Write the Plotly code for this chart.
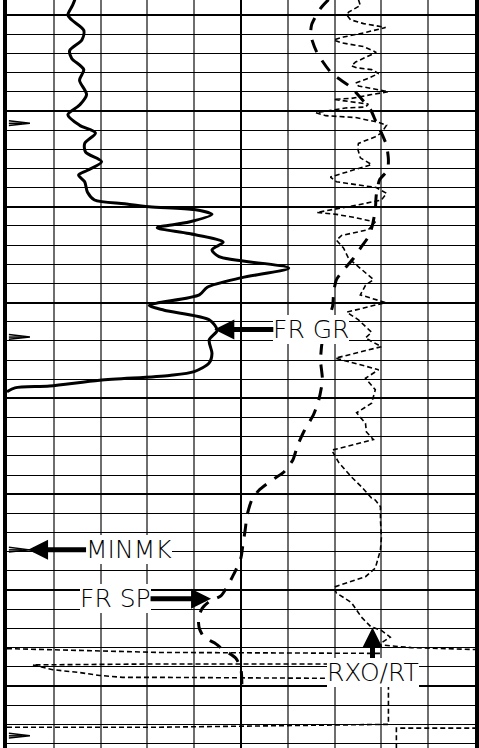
import plotly.graph_objects as go

# ---------------- data (depth in ft, curve readings in track divisions 0-10) ----------------
gr_depth = [3998.4, 3999.0, 4000.0, 4000.5, 4001.6, 4002.6, 4003.7, 4004.5, 4005.7, 4006.8,
            4008.3, 4009.4, 4010.4, 4011.5, 4012.3, 4013.4, 4014.3, 4015.3, 4016.2, 4016.7,
            4017.4, 4018.5, 4019.3, 4019.7, 4020.0, 4020.3, 4020.8, 4021.6, 4022.2, 4022.8,
            4023.7, 4024.5, 4025.2, 4026.4, 4027.4, 4028.4, 4029.2, 4030.3, 4030.8, 4031.8,
            4032.9, 4033.9, 4035.3, 4036.3, 4037.2, 4037.6, 4038.1, 4038.7, 4038.9, 4039.3]
gr_value = [1.45, 1.40, 1.30, 1.38, 1.64, 1.60, 1.34, 1.38, 1.64, 1.55,
            1.70, 1.55, 1.30, 1.55, 1.89, 1.66, 1.68, 2.02, 1.72, 1.53,
            1.66, 1.72, 1.87, 2.51, 3.04, 4.00, 4.38, 3.89, 3.21, 3.89,
            4.62, 4.38, 4.53, 6.02, 5.02, 4.28, 4.11, 3.04, 3.36, 4.32,
            4.49, 4.32, 4.38, 4.32, 4.00, 3.47, 1.98, 0.91, 0.17, 0.00]

sp_depth = [3998.4, 3999.3, 4001.0, 4002.1, 4003.9, 4006.1, 4007.5, 4008.6, 4009.9, 4011.2,
            4012.5, 4013.6, 4015.1, 4016.2, 4017.2, 4018.8, 4020.3, 4021.9, 4023.0, 4024.2,
            4025.4, 4026.6, 4027.6, 4028.9, 4030.3, 4031.8, 4033.9, 4036.0, 4038.1, 4040.2,
            4041.7, 4043.3, 4044.9, 4046.4, 4047.7, 4048.6, 4049.6, 4050.6, 4052.2, 4053.7,
            4055.3, 4056.6, 4058.1, 4059.5, 4060.6, 4061.2, 4061.9, 4062.9, 4064.0, 4064.9,
            4065.5, 4066.2, 4067.1, 4068.3, 4070.1]
sp_value = [6.87, 6.70, 6.51, 6.49, 6.62, 6.94, 7.34, 7.55, 7.77, 7.89,
            8.02, 8.11, 8.15, 8.13, 7.96, 7.89, 7.87, 7.81, 7.74, 7.57,
            7.40, 7.19, 7.04, 6.98, 6.96, 6.87, 6.74, 6.70, 6.74, 6.66,
            6.55, 6.36, 6.21, 6.11, 5.91, 5.64, 5.38, 5.23, 5.13, 5.09,
            5.04, 5.00, 4.87, 4.72, 4.57, 4.32, 4.17, 4.09, 4.11, 4.21,
            4.43, 4.62, 4.89, 5.00, 5.02]

rxo_depth = [3998.4, 3999.0, 3999.7, 4000.0, 4000.5, 4000.9, 4001.3, 4001.8, 4002.3, 4002.6,
             4002.9, 4003.3, 4003.9, 4004.4, 4004.9, 4005.3, 4005.5, 4005.7, 4006.1, 4006.6,
             4007.1, 4007.4, 4007.7, 4008.0, 4008.3, 4008.7, 4008.8, 4009.1, 4009.3, 4009.6,
             4009.7, 4010.2, 4010.5, 4010.7, 4011.2, 4011.5, 4012.3, 4012.7, 4013.4, 4013.9,
             4014.9, 4015.6, 4016.2, 4016.9, 4017.4, 4017.7, 4018.0, 4018.6, 4019.3, 4019.8,
             4020.6, 4020.8, 4021.1, 4021.6, 4022.4, 4023.0, 4023.5, 4024.3, 4025.4, 4026.1,
             4027.6, 4028.2, 4029.2, 4030.0, 4031.0, 4031.8, 4033.1, 4033.7, 4034.6, 4035.8,
             4037.0, 4037.9, 4039.1, 4040.5, 4041.5, 4042.6, 4043.5, 4044.3, 4045.4, 4046.7,
             4048.2, 4049.2, 4050.4, 4050.6, 4051.3, 4052.7, 4054.5, 4055.8, 4057.7, 4058.6,
             4059.5, 4059.7, 4060.3, 4061.3, 4062.8, 4063.8, 4064.2, 4064.9, 4065.7, 4066.0,
             4066.2]
rxo_value = [7.51, 7.55, 7.30, 7.26, 7.34, 7.62, 8.09, 7.68, 7.19, 6.98,
             7.15, 7.62, 7.89, 7.68, 7.45, 7.36, 7.47, 7.79, 7.94, 7.72,
             7.45, 7.51, 7.87, 8.15, 7.79, 7.36, 6.98, 7.45, 7.72, 7.66,
             7.23, 6.60, 6.81, 7.45, 7.94, 8.11, 8.00, 7.87, 7.51, 7.49,
             7.55, 7.79, 7.40, 6.91, 7.04, 7.51, 7.89, 8.11, 8.00, 7.51,
             6.62, 7.04, 7.40, 7.87, 7.72, 7.15, 7.04, 7.19, 7.30, 7.47,
             7.83, 7.66, 7.55, 8.09, 7.26, 7.51, 7.79, 7.66, 8.00, 7.02,
             7.94, 7.66, 7.87, 7.79, 7.47, 7.66, 7.68, 7.83, 6.94, 7.09,
             7.36, 7.57, 7.79, 7.87, 7.98, 7.98, 8.00, 7.98, 7.87, 7.66,
             7.09, 6.98, 7.04, 7.36, 7.57, 7.77, 8.00, 8.19, 7.94, 8.64,
             10.00]

# off-scale (wrapped) resistivity backups near the bottom
wrap1_depth = [4066.1, 4066.2, 4066.5, 4066.6]
wrap1_value = [0.00, 0.98, 3.26, 8.00]
wrap2_depth = [4067.7, 4067.7, 4067.8, 4068.3, 4068.6, 4068.9, 4069.1, 4069.1, 4069.2]
wrap2_value = [6.87, 3.26, 0.55, 0.98, 1.55, 1.98, 2.47, 3.26, 6.87]
wrap3_depth = [4074.3, 4074.3, 4074.1, 4074.0, 4070.2, 4068.5]
wrap3_value = [0.00, 3.26, 6.51, 8.15, 8.15, 8.15]
wrap4_depth = [4076.5, 4074.4, 4074.4]
wrap4_value = [8.32, 8.32, 10.00]

minmk_depth = [4011.3, 4033.6, 4055.8, 4075.2]

label_text = ["FR GR", "MINMK", "FR SP", "RXO/RT"]
label_value = [4.43, 0.45, 4.36, 7.81]
label_depth = [4032.8, 4055.8, 4060.9, 4063.9]

# ---------------- figure ----------------
fig = go.Figure()

fig.add_trace(go.Scatter(x=gr_value, y=gr_depth, mode="lines", name="GR",
                         line=dict(color="black", width=3, shape="spline", smoothing=0.8)))
fig.add_trace(go.Scatter(x=sp_value, y=sp_depth, mode="lines", name="SP",
                         line=dict(color="black", width=3, dash="13px,10px",
                                   shape="spline", smoothing=0.6)))
fig.add_trace(go.Scatter(x=rxo_value, y=rxo_depth, mode="lines", name="RXO/RT",
                         line=dict(color="black", width=1.6, dash="5px,3px")))
for wv, wd in [(wrap1_value, wrap1_depth), (wrap2_value, wrap2_depth),
               (wrap3_value, wrap3_depth), (wrap4_value, wrap4_depth)]:
    fig.add_trace(go.Scatter(x=wv, y=wd, mode="lines", showlegend=False,
                             line=dict(color="black", width=1.6, dash="5px,3px")))

# MINMK flags at the left edge of the track
fx, fy = [], []
for d in minmk_depth:
    fx += [0.04, 0.49, 0.04, None, 0.04, 0.33, None]
    fy += [d - 0.27, d, d + 0.22, None, d, d, None]
fig.add_trace(go.Scatter(x=fx, y=fy, mode="lines", showlegend=False,
                         line=dict(color="black", width=1.5)))

offsets = [(97, 0), (101, 0), (-96, 0), (0, 45)]
for txt, xv, dv, (ax, ay) in zip(label_text, label_value, label_depth, offsets):
    fig.add_annotation(x=xv, y=dv, text=txt, showarrow=True, ax=ax, ay=ay,
                       arrowhead=2, arrowsize=0.8, arrowwidth=5, arrowcolor="black",
                       bgcolor="white", borderpad=0, borderwidth=0,
                       font=dict(family="'DejaVu Sans', sans-serif", size=25,
                                 color="black", weight=200))

fig.update_xaxes(range=[0, 10], showticklabels=False, ticks="", zeroline=False,
                 showline=False, dtick=5, tick0=0, showgrid=True,
                 gridcolor="black", gridwidth=2,
                 minor=dict(dtick=1, tick0=0, showgrid=True, gridcolor="#6e6e6e", gridwidth=1.5))
fig.update_yaxes(range=[4076.47, 3998.435], showticklabels=False, ticks="", zeroline=False,
                 showline=True, mirror=True, linecolor="black", linewidth=3.5,
                 dtick=10, tick0=4000, showgrid=True, gridcolor="black", gridwidth=2.2,
                 minor=dict(dtick=2, tick0=4000, showgrid=True, gridcolor="black", gridwidth=1.2))

fig.update_layout(width=479, height=748, autosize=False,
                  margin=dict(l=7, r=2, t=0, b=0, pad=0),
                  paper_bgcolor="white", plot_bgcolor="white", showlegend=False)

fig.write_html("out.html", config={"displayModeBar": False},
               post_script="document.body.style.margin='0';")
